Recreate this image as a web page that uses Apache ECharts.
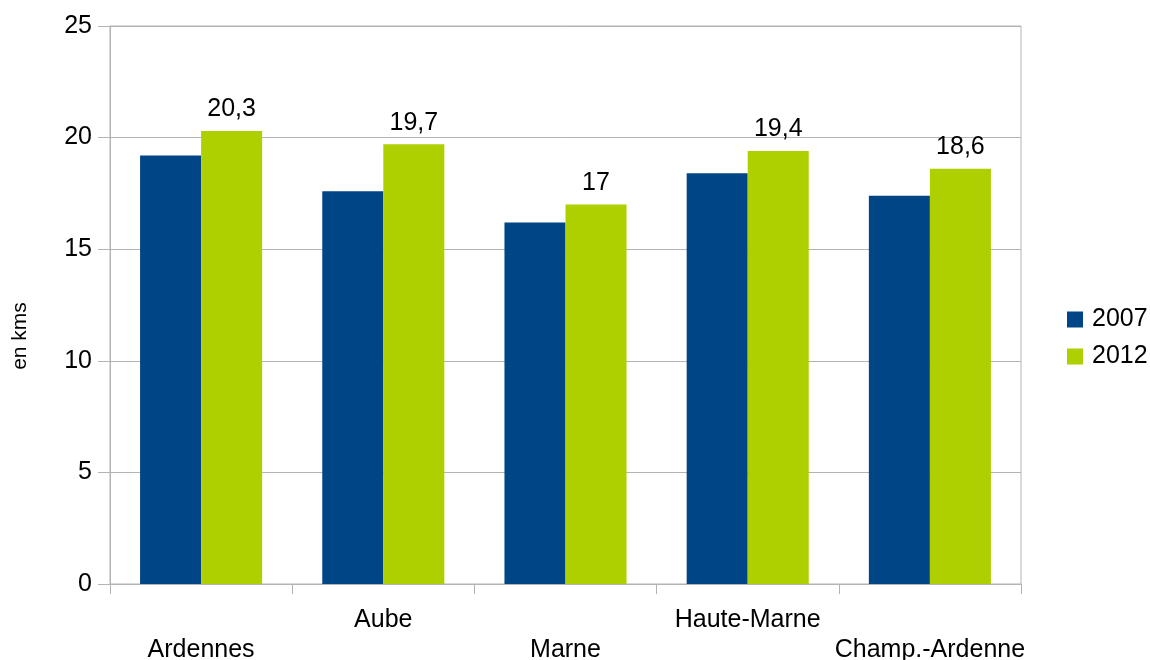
<!DOCTYPE html>
<html><head><meta charset="utf-8">
<script src="https://cdn.jsdelivr.net/npm/echarts@6/dist/echarts.min.js"></script>
<style>html,body{margin:0;padding:0;background:#fff}#c{width:1150px;height:660px}</style>
</head><body><div id="c"></div>
<script>
const categories = ['Ardennes', 'Aube', 'Marne', 'Haute-Marne', 'Champ.-Ardenne'];
const values2007 = [19.2, 17.6, 16.2, 18.4, 17.4];
const values2012 = [20.3, 19.7, 17, 19.4, 18.6];
const seriesNames = ['2007', '2012'];
const yTitle = 'en kms';

const chart = echarts.init(document.getElementById('c'), null, {renderer: 'canvas'});
const font = 'Liberation Sans, Arial, sans-serif';
chart.setOption({
  animation: false,
  textStyle: {fontFamily: font},
  grid: {left: 110, right: 129, top: 26, bottom: 76, show: true, borderColor: '#b3b3b3', borderWidth: 1,
         containLabel: false, outerBoundsMode: 'none'},
  legend: {
    orient: 'vertical', left: 1062, top: 302,
    itemWidth: 16, itemHeight: 16, itemGap: 12,
    icon: 'rect',
    textStyle: {fontSize: 25, color: '#000', fontFamily: font, padding: [0, 0, 0, 4]},
    data: seriesNames
  },
  graphic: [{
    type: 'text', x: 20, y: 336, rotation: Math.PI / 2,
    style: {text: yTitle, fontSize: 21, fill: '#000', fontFamily: font, align: 'center', verticalAlign: 'middle'}
  }],
  xAxis: {
    type: 'category', data: categories,
    axisLine: {lineStyle: {color: '#b3b3b3'}},
    axisTick: {show: true, length: 10, lineStyle: {color: '#b3b3b3'}},
    axisLabel: {
      interval: 0, fontSize: 25, color: '#000', margin: 21, lineHeight: 30,
      fontFamily: font,
      formatter: (v, i) => (i % 2 === 0 ? '\n' + v : v)
    }
  },
  yAxis: {
    type: 'value', min: 0, max: 25, interval: 5,
    axisLine: {show: true, lineStyle: {color: '#b3b3b3'}},
    axisTick: {show: true, length: 12, lineStyle: {color: '#b3b3b3'}},
    axisLabel: {fontSize: 25, color: '#000', margin: 18, fontFamily: font},
    splitLine: {lineStyle: {color: '#b3b3b3'}}
  },
  series: [
    {name: seriesNames[0], type: 'bar', data: values2007, barGap: '0%', barCategoryGap: '33%',
     itemStyle: {color: '#004586'}},
    {name: seriesNames[1], type: 'bar', data: values2012, barGap: '0%', barCategoryGap: '33%',
     itemStyle: {color: '#aecf00'},
     label: {show: true, position: 'top', distance: 9, fontSize: 25, color: '#000', fontFamily: font,
       formatter: p => String(p.value).replace('.', ',')}}
  ]
});
</script></body></html>
